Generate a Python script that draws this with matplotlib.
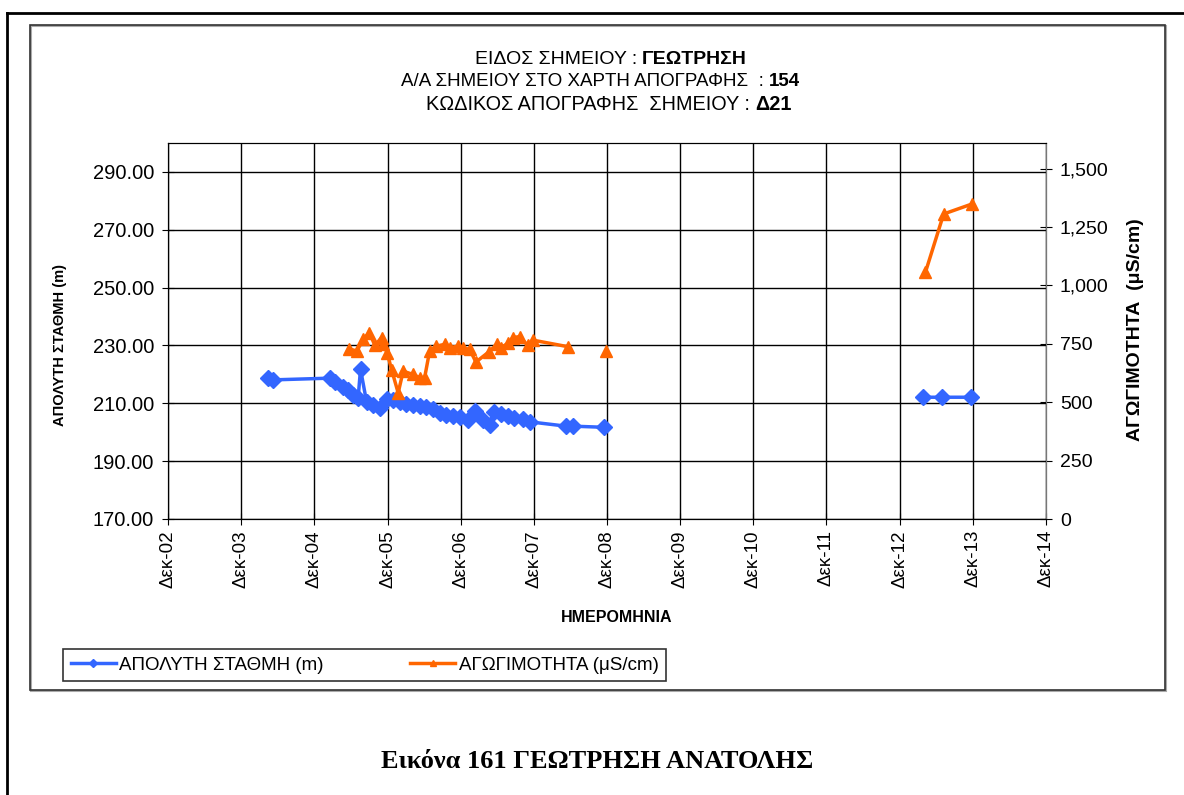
import numpy as np
import matplotlib
matplotlib.use("Agg")
import matplotlib.pyplot as plt
import matplotlib.dates as mdates
from matplotlib.lines import Line2D
from matplotlib.patches import Rectangle
from matplotlib.ticker import FixedLocator, FuncFormatter
from datetime import datetime

plt.rcParams['font.family'] = ['Liberation Sans', 'DejaVu Sans']

# ΑΠΟΛΥΤΗ ΣΤΑΘΜΗ (m) - primary axis
level_dates = ['2004-04-15', '2004-05-09', '2005-02-18', '2005-03-12', '2005-04-23',
               '2005-05-18', '2005-06-12', '2005-07-07', '2005-07-19', '2005-08-18',
               '2005-09-20', '2005-10-23', '2005-11-26', '2005-12-29', '2006-02-01',
               '2006-03-04', '2006-04-07', '2006-05-10', '2006-06-13', '2006-07-15',
               '2006-08-18', '2006-09-21', '2006-10-23', '2006-11-26', '2007-01-07',
               '2007-02-10', '2007-03-21', '2007-04-24', '2007-05-18', '2007-06-21',
               '2007-07-24', '2007-08-26', '2007-10-07', '2007-11-10', '2008-05-10',
               '2008-06-12', '2008-11-18', '2010-06-01',
               '2013-03-29', '2013-06-29', '2013-11-24']
level_values = [218.7, 218.1, 218.7, 217.5, 215.8,
                214.6, 212.9, 211.7, 221.8, 210.6,
                209.5, 208.3, 211.4, 211.2, 210.3,
                209.8, 209.5, 209.1, 208.7, 208.0,
                206.6, 206.0, 205.6, 205.2, 204.3,
                207.5, 204.3, 202.6, 207.1, 206.3,
                205.6, 204.8, 204.5, 203.6, 202.1,
                202.1, 201.7, np.nan,
                212.1, 212.1, 212.1]

# ΑΓΩΓΙΜΟΤΗΤΑ (μS/cm) - secondary axis
cond_dates = ['2005-05-23', '2005-07-01', '2005-08-01', '2005-09-01', '2005-09-29',
              '2005-11-01', '2005-11-09', '2005-11-29', '2005-12-21', '2006-01-23',
              '2006-02-17', '2006-04-07', '2006-05-10', '2006-06-04', '2006-06-29',
              '2006-08-01', '2006-09-12', '2006-10-07', '2006-11-18', '2006-12-12',
              '2007-01-15', '2007-02-15', '2007-04-20', '2007-05-30', '2007-06-21',
              '2007-07-24', '2007-08-21', '2007-09-21', '2007-11-01', '2007-11-26',
              '2008-05-18', '2008-08-01', '2008-11-27', '2010-06-01',
              '2013-04-08', '2013-07-08', '2013-11-27']
cond_values = [729, 719, 769, 798, 743,
               777, 748, 712, 640, 540,
               633, 619, 605, 605, 719,
               740, 748, 734, 740, 734,
               726, 672, 715, 748, 734,
               752, 777, 781, 743, 766,
               738, np.nan, 719, np.nan,
               1056, 1306, 1349]

tick_years = list(range(2002, 2015))

level_x = [datetime.strptime(d, '%Y-%m-%d') for d in level_dates]
cond_x = [datetime.strptime(d, '%Y-%m-%d') for d in cond_dates]
tick_x = [mdates.date2num(datetime(y, 12, 1)) for y in tick_years]

W, H = 1184, 795
fig = plt.figure(figsize=(W / 100, H / 100), dpi=100)

# page frames
fig.add_artist(Line2D([7 / W, 1], [1 - 13 / H, 1 - 13 / H], color='black', lw=2))
fig.add_artist(Line2D([7 / W, 7 / W], [0, 1 - 13 / H], color='black', lw=2))
fig.add_artist(Rectangle((31 / W, 1 - 691 / H), 1135 / W, 665 / H, fill=False,
                         edgecolor='#aaaaaa', lw=1.5))
fig.add_artist(Rectangle((30 / W, 1 - 690 / H), 1135 / W, 665 / H, fill=False,
                         edgecolor='#333333', lw=1.2))

ax = fig.add_axes([168 / W, 1 - 519 / H, 878 / W, 376 / H])
ax2 = ax.twinx()

ax.plot(level_x, level_values, color='#3366FF', lw=2.5, marker='D', markersize=8,
        label='ΑΠΟΛΥΤΗ ΣΤΑΘΜΗ (m)')
ax2.plot(cond_x, cond_values, color='#FF6600', lw=2.5, marker='^', markersize=9,
         label='ΑΓΩΓΙΜΟΤΗΤΑ (μS/cm)')

ax.set_xlim(tick_x[0], tick_x[-1])
ax.set_ylim(170, 300)
ax2.set_ylim(0, 1610)

ax.xaxis.set_major_locator(FixedLocator(tick_x))
ax.xaxis.set_major_formatter(FuncFormatter(lambda v, p: 'Δεκ-' + mdates.num2date(v).strftime('%y')))
ax.set_yticks(np.arange(170, 291, 20))
ax.yaxis.set_major_formatter(FuncFormatter(lambda v, p: f'{v:.2f}'))
ax2.set_yticks(np.arange(0, 1501, 250))
ax2.yaxis.set_major_formatter(FuncFormatter(lambda v, p: f'{v:,.0f}'))

ax.grid(True, color='black', lw=1)
ax.set_axisbelow(True)
for lab in ax.get_xticklabels():
    lab.set_rotation(90)
ax.tick_params(axis='x', direction='inout', length=8, labelsize=13.5, pad=4)
ax.tick_params(axis='y', direction='inout', length=8, labelsize=14.5, pad=6)
ax2.tick_params(axis='y', direction='inout', length=8, labelsize=14, pad=6, colors='black')
for s in ax.spines.values():
    s.set_color('black')
for s in ax2.spines.values():
    s.set_color('black')
ax2.spines['right'].set_color('#777777')

# titles
def two_part(y, normal, bold, xsplit, size=13.5):
    fig.text(xsplit / W, 1 - y / H, normal, ha='right', va='center', fontsize=size)
    fig.text((xsplit + 5) / W, 1 - y / H, bold, ha='left', va='center', fontsize=size,
             fontweight='bold')

two_part(59, 'ΕΙΔΟΣ ΣΗΜΕΙΟΥ :', 'ΓΕΩΤΡΗΣΗ', 637, 14)
two_part(82, 'Α/Α ΣΗΜΕΙΟΥ ΣΤΟ ΧΑΡΤΗ ΑΠΟΓΡΑΦΗΣ  :', '154', 764)
two_part(104, 'ΚΩΔΙΚΟΣ ΑΠΟΓΡΑΦΗΣ  ΣΗΜΕΙΟΥ :', 'Δ21', 750, 14.3)

fig.text(60 / W, 1 - 345 / H, 'ΑΠΟΛΥΤΗ ΣΤΑΘΜΗ (m)', rotation=90, ha='center', va='center',
         fontsize=10.5, fontweight='bold')
fig.text(1136 / W, 1 - 330 / H, 'ΑΓΩΓΙΜΟΤΗΤΑ  (μS/cm)', rotation=90, ha='center', va='center',
         fontsize=14, fontweight='bold')
fig.text(617 / W, 1 - 618 / H, 'ΗΜΕΡΟΜΗΝΙΑ', ha='center', va='center', fontsize=11.5,
         fontweight='bold')

h1, l1 = ax.get_legend_handles_labels()
h2, l2 = ax2.get_legend_handles_labels()
leg = fig.legend(h1 + h2, l1 + l2, loc='lower left', bbox_to_anchor=(63 / W, 1 - 681 / H),
                 ncol=2, fontsize=13.5, frameon=True, fancybox=False, markerscale=0.55,
                 handlelength=2.4, columnspacing=4.6, borderpad=0.4, handletextpad=0.2,
                 borderaxespad=0)
leg.get_frame().set_edgecolor('black')
leg.get_frame().set_linewidth(1.2)

fig.text(597 / W, 1 - 762 / H, 'Εικόνα 161 ΓΕΩΤΡΗΣΗ ΑΝΑΤΟΛΗΣ', ha='center', va='center',
         family=['Liberation Serif', 'DejaVu Serif'], fontweight='bold', fontsize=19)

fig.savefig('out.png', dpi=100)
